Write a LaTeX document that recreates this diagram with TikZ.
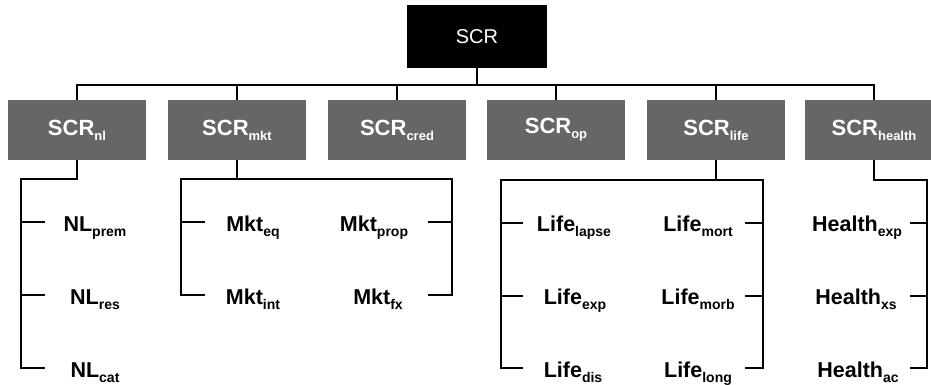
\documentclass[tikz,border=0pt]{standalone}
\usepackage{fontspec}
\setmainfont{Liberation Sans}
\definecolor{modgray}{gray}{0.40}
\newcommand\lowsub[2][12]{\raisebox{-5pt}{\fontsize{#1}{#1}\selectfont #2}}
\begin{document}
\begin{tikzpicture}[x=1pt,y=-1pt,
  conn/.style={line width=1.8pt},
  topbox/.style={fill=black, minimum width=140pt, minimum height=63pt, inner sep=0pt, text=white, font=\fontsize{20}{20}\selectfont},
  modbox/.style={fill=modgray, minimum width=138pt, minimum height=60pt, inner sep=0pt, text=white, font=\bfseries\fontsize{22}{22}\selectfont},
  leaf/.style={inner sep=0pt, anchor=base, font=\bfseries\fontsize{21.5}{22}\selectfont}]
\useasboundingbox (0,0) rectangle (931,384);

% top
\node[topbox] (scr) at (477,36.5) {SCR};
\coordinate (bus) at (477,85);

% modules
\node[modbox] (nl)     at (77,130)  {SCR\lowsub[13]{nl}};
\node[modbox] (mkt)    at (237,130) {SCR\lowsub[13]{mkt}};
\node[modbox] (cred)   at (397,130) {SCR\lowsub[13]{cred}};
\node[modbox] (op)     at (556,130) {SCR\lowsub[13]{op}};
\node[modbox] (life)   at (716,130) {SCR\lowsub[13]{life}};
\node[modbox] (health) at (874,130) {SCR\lowsub[13]{health}};

\draw[conn] (scr.south) -- (bus);
\draw[conn] (nl.north) -- (nl.north |- bus) -- (health.north |- bus) -- (health.north);
\foreach \m in {mkt,cred,op,life} \draw[conn] (\m.north) -- (\m.north |- bus);

% leaves
\node[leaf] (nlprem) at (95,231) {NL\lowsub[14]{prem}};
\node[leaf] (nlres)  at (95,304) {NL\lowsub[14]{res}};
\node[leaf] (nlcat)  at (95,377) {NL\lowsub[14]{cat}};

\node[leaf] (mkteq)   at (253,231) {Mkt\lowsub[14]{eq}};
\node[leaf] (mktint)  at (253,304) {Mkt\lowsub[14]{int}};
\node[leaf] (mktprop) at (374,231) {Mkt\lowsub[14]{prop}};
\node[leaf] (mktfx)   at (378,304) {Mkt\lowsub[14]{fx}};

\node[leaf] (lifelapse) at (574,231) {Life\lowsub[14]{lapse}};
\node[leaf] (lifeexp)   at (575,304) {Life\lowsub[14]{exp}};
\node[leaf] (lifedis)   at (573,377) {Life\lowsub[14]{dis}};
\node[leaf] (lifemort)  at (698,231) {Life\lowsub[14]{mort}};
\node[leaf] (lifemorb)  at (698,304) {Life\lowsub[14]{morb}};
\node[leaf] (lifelong)  at (698,377) {Life\lowsub[14]{long}};

\node[leaf] (hexp) at (857,231) {Health\lowsub[14]{exp}};
\node[leaf] (hxs)  at (856,304) {Health\lowsub[14]{xs}};
\node[leaf] (hac)  at (858,377) {Health\lowsub[14]{ac}};

% NL bracket
\coordinate (nlA) at (21,179);
\coordinate (nlB) at (21,368);
\coordinate (nlT1) at (45,222);
\coordinate (nlT2) at (45,295);
\coordinate (nlT3) at (45,368);
\draw[conn] (nl.south) |- (nlA) -- (nlB) -- (nlT3);
\draw[conn] (nlA |- nlT1) -- (nlT1);
\draw[conn] (nlA |- nlT2) -- (nlT2);

% Mkt bracket
\coordinate (mkA) at (181,179);
\coordinate (mkB) at (452,179);
\coordinate (mkL1) at (205,222);
\coordinate (mkL2) at (205,295);
\coordinate (mkR1) at (428,222);
\coordinate (mkR2) at (428,295);
\draw[conn] (mkt.south) -- (mkt.south |- mkA);
\draw[conn] (mkL2) -- (mkA |- mkL2) -- (mkA) -- (mkB) -- (mkB |- mkR2) -- (mkR2);
\draw[conn] (mkA |- mkL1) -- (mkL1);
\draw[conn] (mkB |- mkR1) -- (mkR1);

% Life bracket
\coordinate (lfA) at (501,180);
\coordinate (lfB) at (763,180);
\coordinate (lfL1) at (523,223);
\coordinate (lfL2) at (523,296);
\coordinate (lfL3) at (523,368);
\coordinate (lfR1) at (745,223);
\coordinate (lfR2) at (745,296);
\coordinate (lfR3) at (745,368);
\draw[conn] (life.south) -- (life.south |- lfA);
\draw[conn] (lfL3) -- (lfA |- lfL3) -- (lfA) -- (lfB) -- (lfB |- lfR3) -- (lfR3);
\draw[conn] (lfA |- lfL1) -- (lfL1);
\draw[conn] (lfA |- lfL2) -- (lfL2);
\draw[conn] (lfB |- lfR1) -- (lfR1);
\draw[conn] (lfB |- lfR2) -- (lfR2);

% Health bracket
\coordinate (hA) at (927,180);
\coordinate (hT1) at (910,223);
\coordinate (hT2) at (910,296);
\coordinate (hT3) at (910,368);
\draw[conn] (health.south) |- (hA) -- (hA |- hT3) -- (hT3);
\draw[conn] (hA |- hT1) -- (hT1);
\draw[conn] (hA |- hT2) -- (hT2);
\end{tikzpicture}
\end{document}
